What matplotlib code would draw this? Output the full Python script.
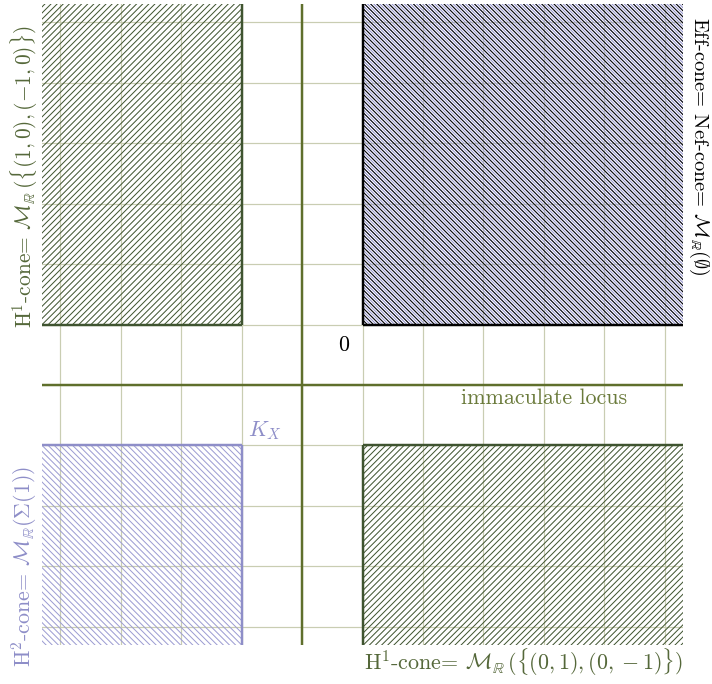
import matplotlib
matplotlib.use("Agg")
import matplotlib.pyplot as plt
from matplotlib.patches import Rectangle

# ---- data ----
grid_ticks = [-5, -4, -3, -2, -1, 0, 1, 2, 3, 4, 5]
limits = [-5.3, 5.3]
immaculate_x = -1
immaculate_y = -1

cone_names = ["H1_left", "eff", "H1_bottom", "H2"]
cone_apex_x = [-2, 0, 0, -2]
cone_apex_y = [0, 0, -2, -2]
cone_dir_x = [-1, 1, 1, -1]
cone_dir_y = [1, 1, -1, -1]

point_labels = ["0", r"$K_X$"]
point_x = [0, -2]
point_y = [0, -2]

DPI = 110
plt.rcParams['mathtext.fontset'] = 'cm'
plt.rcParams['hatch.linewidth'] = 0.65
plt.rcParams['axes.unicode_minus'] = False

OLIVE = '#5f6f2c'
OLIVE_TXT = '#6b7b3c'
GREEN = '#3f5430'
GRID = '#c9cdb2'
PURPLE = '#8e8ec8'
PURPLE_H = '#9c9cd2'
BLACK = '#000000'

fig = plt.figure(figsize=(712 / DPI, 684 / DPI), dpi=DPI)
ax = fig.add_axes([42 / 712, 1 - 645 / 684, 641 / 712, 641 / 684])
ax.set_xlim(limits)
ax.set_ylim(limits)
ax.set_xticks(grid_ticks)
ax.set_yticks(grid_ticks)
ax.tick_params(length=0, labelbottom=False, labelleft=False)
for s in ax.spines.values():
    s.set_visible(False)
ax.grid(True, color=GRID, linewidth=0.8, zorder=0)
ax.set_axisbelow(True)

styles = {
    "H1_left": [dict(hatch='/' * 6, ec=GREEN)],
    "eff": [dict(hatch='\\' * 12, ec=PURPLE), dict(hatch='\\' * 6, ec=BLACK)],
    "H1_bottom": [dict(hatch='/' * 6, ec=GREEN)],
    "H2": [dict(hatch='\\' * 6, ec=PURPLE_H)],
}
border_col = {"H1_left": GREEN, "eff": BLACK, "H1_bottom": GREEN, "H2": PURPLE}

far = 20
for name, ax0, ay0, dx, dy in zip(cone_names, cone_apex_x, cone_apex_y, cone_dir_x, cone_dir_y):
    x0 = min(ax0, ax0 + dx * far)
    y0 = min(ay0, ay0 + dy * far)
    for st in styles[name]:
        r = Rectangle((x0, y0), far, far, fill=False, hatch=st['hatch'],
                      edgecolor=st['ec'], linewidth=0, zorder=2)
        ax.add_patch(r)
    ax.plot([ax0, ax0], [ay0, ay0 + dy * far], color=border_col[name], lw=1.6,
            solid_capstyle='butt', zorder=4)
    ax.plot([ax0, ax0 + dx * far], [ay0, ay0], color=border_col[name], lw=1.6,
            solid_capstyle='butt', zorder=4)

ax.axvline(immaculate_x, color=OLIVE, lw=1.6, zorder=3)
ax.axhline(immaculate_y, color=OLIVE, lw=1.6, zorder=3)

FS = 14.4
fam = ['cmr10', 'DejaVu Serif']

ax.text(point_x[0] - 0.31, point_y[0] - 0.43, point_labels[0], ha='center',
        va='baseline', fontsize=FS, family=fam)
ax.text(point_x[1] + 0.10, point_y[1] + 0.15, point_labels[1], ha='left',
        va='baseline', fontsize=FS, color=PURPLE)

ax.text(3.0, -1.32, 'immaculate locus', ha='center', va='baseline',
        fontsize=FS, family=fam, color=OLIVE_TXT)

ax.text(-5.6, -0.05, r'H$^1$-cone= $\mathcal{M}_{\mathbb{R}}\,(\{(1,0),(-1,0)\})$',
        rotation=90, ha='center', va='bottom', fontsize=FS - 0.4, family=fam,
        color='#55683a', clip_on=False)
ax.text(-5.6, -5.67, r'H$^2$-cone= $\mathcal{M}_{\mathbb{R}}(\Sigma(1))$',
        rotation=90, ha='center', va='bottom', fontsize=FS, family=fam,
        color=PURPLE, clip_on=False)
ax.text(5.56, 5.09, r'Eff-cone= Nef-cone= $\mathcal{M}_{\mathbb{R}}(\emptyset)$',
        rotation=-90, ha='center', va='top', fontsize=13.4, family=fam,
        color=BLACK, clip_on=False)
ax.text(5.3, -5.71, r'H$^1$-cone= $\mathcal{M}_{\mathbb{R}}\,(\{(0,1),(0,-1)\})$',
        ha='right', va='baseline', fontsize=FS, family=fam,
        color='#55683a', clip_on=False)

fig.savefig('out.png', dpi=DPI)
